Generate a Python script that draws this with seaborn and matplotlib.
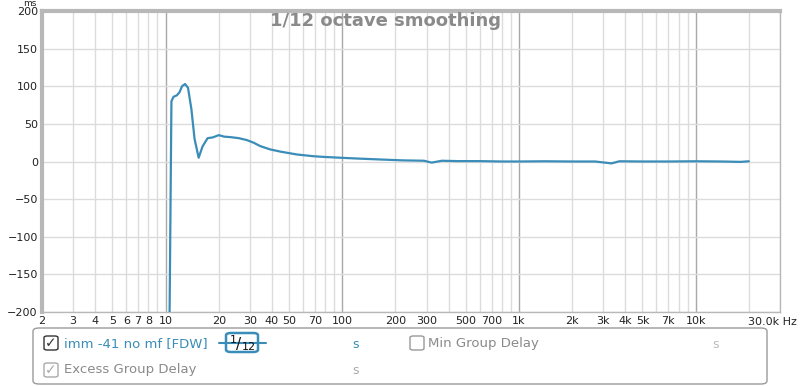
import numpy as np
import pandas as pd
import matplotlib.pyplot as plt
import seaborn as sns
from matplotlib.patches import FancyBboxPatch

# Group delay curve (Hz, ms)
freq = [10.5, 10.8, 11.1, 11.6, 12.0, 12.4, 12.9, 13.4, 14.0, 14.6, 15.4, 16.2,
        17.3, 18.5, 20.0, 21.5, 23.3, 26.0, 28.9, 31.5, 34.4, 39.2, 45.0, 55.5,
        68.8, 80.0, 97.6, 120, 163, 220, 290, 321, 366, 450, 600, 800, 1000,
        1400, 2000, 2700, 3340, 3700, 5000, 7000, 10000, 14000, 18000, 20000]
delay = [-250, 80, 86, 88, 92, 100, 103, 98, 70, 30, 5, 20,
         31, 32, 35, 33, 32.4, 31, 28.4, 25, 20.4, 16, 13, 9.3,
         7, 6, 5, 4, 2.7, 1.5, 1, -1.5, 1, 0.5, 0.5, 0, 0,
         0.3, 0, 0, -2.5, 0.3, 0, 0, 0.3, 0, -0.5, 0.3]

xtick_vals = [2, 3, 4, 5, 6, 7, 8, 10, 20, 30, 40, 50, 70, 100, 200, 300, 500,
              700, 1000, 2000, 3000, 4000, 5000, 7000, 10000, 30000]
xtick_labels = ['2', '3', '4', '5', '6', '7', '8', '10', '20', '30', '40', '50',
                '70', '100', '200', '300', '500', '700', '1k', '2k', '3k', '4k',
                '5k', '7k', '10k', '']
ytick_vals = [200, 150, 100, 50, 0, -50, -100, -150, -200]

sns.set_style("white")
plt.rcParams['font.family'] = ['DejaVu Sans']

df = pd.DataFrame({'freq': freq, 'delay': delay})
line_col = '#3a8db8'
grey = '#8a8a8a'

fig = plt.figure(figsize=(8, 3.86), dpi=100)
ax = fig.add_axes([42 / 800, 1 - 312 / 386, 738 / 800, 301 / 386])

# grid lines
for dec in [1, 10, 100, 1000, 10000]:
    for m in range(1, 10):
        f = dec * m
        if f < 2 or f > 30000:
            continue
        if m == 1:
            ax.axvline(f, color='#a8a8a8', lw=1.0, zorder=1)
        else:
            ax.axvline(f, color='#dcdcdc', lw=1.0, zorder=1)
for v in ytick_vals:
    ax.axhline(v, color='#dcdcdc', lw=1.0, zorder=1)

sns.lineplot(data=df, x='freq', y='delay', ax=ax, color=line_col, lw=1.6,
             zorder=3, sort=False)

ax.set_xscale('log')
ax.set_xlim(2, 30000)
ax.set_ylim(-200, 200)
ax.set_xticks(xtick_vals)
ax.set_xticklabels(xtick_labels)
ax.minorticks_off()
ax.set_yticks(ytick_vals)
ax.tick_params(axis='both', length=0, labelsize=8, colors='#222222', pad=3)
ax.set_xlabel('')
ax.set_ylabel('')
for sp in ax.spines.values():
    sp.set_color('#b8b8b8')
    sp.set_linewidth(1.0)
ax.spines['left'].set_linewidth(3)
ax.spines['top'].set_linewidth(3)

fig.text(37 / 800, 1 + 1 / 386, 'ms', fontsize=6.5, color='#222222',
         ha='right', va='top')
fig.text(797 / 800, 1 - 322 / 386, '30.0k Hz', fontsize=8, color='#222222',
         ha='right', va='center')
fig.text(385 / 800, 1 - 21 / 386, '1/12 octave smoothing', fontsize=13,
         color=grey, ha='center', va='center', fontweight='bold')

# legend panel
def px(x, y):
    return x / 800, 1 - y / 386

panel = FancyBboxPatch(px(33, 384), 734 / 800, 56 / 386,
                       boxstyle='round,pad=0,rounding_size=0.008',
                       transform=fig.transFigure, fc='white', ec='#9a9a9a',
                       lw=1.0, zorder=0)
fig.patches.append(panel)

def checkbox(x, y, checked, col):
    b = FancyBboxPatch(px(x - 7, y + 7), 14 / 800, 14 / 386,
                       boxstyle='round,pad=0,rounding_size=0.004',
                       transform=fig.transFigure, fc='white', ec=col, lw=1.0)
    fig.patches.append(b)
    if checked:
        fig.text(*px(x, y), '✓', fontsize=10, color=col, ha='center',
                 va='center')

checkbox(51, 343, True, '#333333')
fig.text(*px(64, 344), 'imm -41 no mf [FDW]', fontsize=9.5, color=line_col,
         va='center')
fig.text(*px(352, 344), 's', fontsize=9, color=line_col, va='center')

# smoothing widget
fig.lines.append(plt.Line2D([219 / 800, 266 / 800], [1 - 343 / 386] * 2,
                            transform=fig.transFigure, color=line_col, lw=1.5))
wb = FancyBboxPatch(px(226, 352), 32 / 800, 19 / 386,
                    boxstyle='round,pad=0,rounding_size=0.006',
                    transform=fig.transFigure, fc='white', ec=line_col, lw=1.8)
fig.patches.append(wb)
fig.text(*px(230, 340), '1', fontsize=8, color='#111111', va='center')
fig.text(*px(236, 344), '/', fontsize=11, color='#111111', va='center')
fig.text(*px(242, 347), '12', fontsize=8, color='#111111', va='center')

checkbox(417, 343, False, '#999999')
fig.text(*px(428, 344), 'Min Group Delay', fontsize=9.5, color=grey,
         va='center')
fig.text(*px(712, 344), 's', fontsize=9, color='#bbbbbb', va='center')

checkbox(51, 370, True, '#aaaaaa')
fig.text(*px(64, 370), 'Excess Group Delay', fontsize=9.5, color=grey,
         va='center')
fig.text(*px(352, 370), 's', fontsize=9, color='#aaaaaa', va='center')

fig.savefig('out.png', dpi=100)
